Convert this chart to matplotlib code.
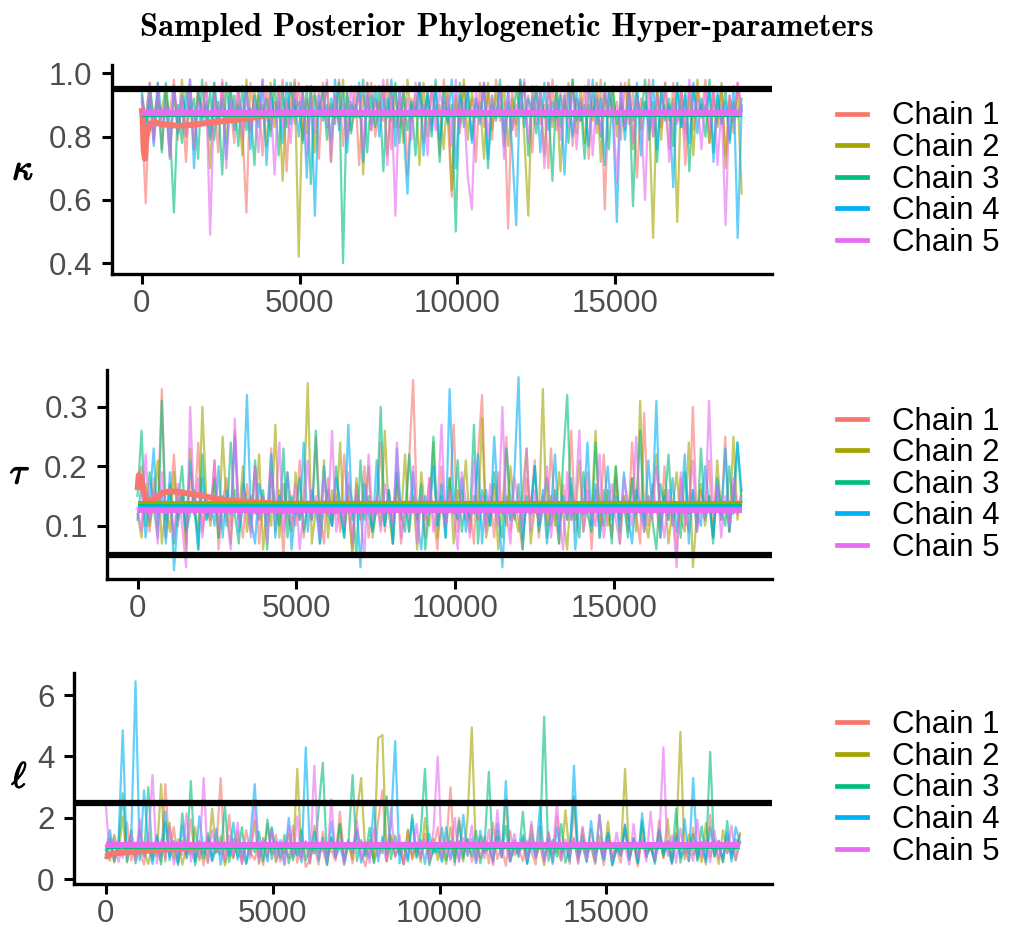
import numpy as np
import matplotlib
matplotlib.use("Agg")
import matplotlib.pyplot as plt
from matplotlib.lines import Line2D
import matplotlib.patheffects as pe

plt.rcParams['mathtext.fontset'] = 'cm'
plt.rcParams['font.family'] = ['Liberation Sans', 'DejaVu Sans']

chain_labels = ["Chain 1", "Chain 2", "Chain 3", "Chain 4", "Chain 5"]
chain_colors = ["#F8766D", "#A3A500", "#00BF7D", "#00B0F6", "#E76BF3"]
n_iter = 19000

# kappa traces (thinned), 10 values per row
kappa_c1 = [0.88, 0.59, 0.95, 0.81, 0.97, 0.76, 0.93, 0.87, 0.98, 0.79,
            0.91, 0.72, 0.96, 0.84, 0.94, 0.88, 0.97, 0.80, 0.92, 0.75,
            0.98, 0.85, 0.90, 0.78, 0.95, 0.83, 0.56, 0.97, 0.86, 0.93,
            0.74, 0.96, 0.82, 0.91, 0.87, 0.98, 0.69, 0.94, 0.84, 0.97,
            0.79, 0.92, 0.88, 0.95, 0.73, 0.97, 0.83, 0.90, 0.86, 0.98,
            0.77, 0.94, 0.82, 0.96, 0.71, 0.93, 0.87, 0.97, 0.80, 0.91,
            0.85, 0.98, 0.76, 0.94, 0.83, 0.96, 0.68, 0.92, 0.88, 0.97,
            0.78, 0.95, 0.84, 0.90, 0.74, 0.98, 0.86, 0.61, 0.93, 0.81,
            0.96, 0.87, 0.92, 0.72, 0.97, 0.83, 0.94, 0.79, 0.98, 0.85,
            0.91, 0.51, 0.95, 0.80, 0.97, 0.86, 0.93, 0.75, 0.96, 0.84,
            0.90, 0.70, 0.98, 0.82, 0.94, 0.87, 0.97, 0.77, 0.92, 0.85,
            0.96, 0.73, 0.93, 0.81, 0.98, 0.57, 0.95, 0.86, 0.91, 0.79,
            0.97, 0.84, 0.94, 0.67, 0.92, 0.88, 0.98, 0.80, 0.95, 0.83,
            0.90, 0.76, 0.97, 0.85, 0.93, 0.71, 0.96, 0.82, 0.94, 0.87,
            0.98, 0.78, 0.92, 0.84, 0.96, 0.74, 0.93, 0.81, 0.97, 0.88]
kappa_c2 = [0.93, 0.85, 0.97, 0.79, 0.91, 0.88, 0.96, 0.73, 0.94, 0.83,
            0.98, 0.80, 0.92, 0.76, 0.95, 0.86, 0.90, 0.70, 0.97, 0.84,
            0.93, 0.78, 0.96, 0.87, 0.91, 0.74, 0.98, 0.82, 0.94, 0.88,
            0.90, 0.77, 0.97, 0.83, 0.95, 0.66, 0.92, 0.86, 0.98, 0.42,
            0.94, 0.81, 0.96, 0.75, 0.91, 0.87, 0.97, 0.72, 0.93, 0.84,
            0.98, 0.79, 0.90, 0.86, 0.95, 0.68, 0.97, 0.82, 0.92, 0.88,
            0.96, 0.74, 0.94, 0.83, 0.91, 0.78, 0.98, 0.85, 0.93, 0.71,
            0.97, 0.80, 0.95, 0.87, 0.90, 0.76, 0.96, 0.63, 0.92, 0.84,
            0.98, 0.79, 0.94, 0.86, 0.91, 0.73, 0.97, 0.82, 0.93, 0.88,
            0.95, 0.77, 0.92, 0.84, 0.98, 0.80, 0.55, 0.96, 0.87, 0.91,
            0.74, 0.97, 0.83, 0.94, 0.69, 0.92, 0.86, 0.98, 0.81, 0.95,
            0.78, 0.90, 0.85, 0.97, 0.72, 0.93, 0.88, 0.96, 0.80, 0.92,
            0.84, 0.98, 0.76, 0.94, 0.82, 0.91, 0.87, 0.48, 0.95, 0.79,
            0.97, 0.85, 0.92, 0.53, 0.96, 0.81, 0.93, 0.74, 0.98, 0.86,
            0.90, 0.78, 0.95, 0.83, 0.97, 0.70, 0.92, 0.85, 0.94, 0.62]
kappa_c3 = [0.91, 0.80, 0.96, 0.86, 0.93, 0.75, 0.97, 0.83, 0.56, 0.90,
            0.78, 0.95, 0.87, 0.92, 0.73, 0.98, 0.84, 0.94, 0.79, 0.91,
            0.68, 0.97, 0.85, 0.93, 0.77, 0.96, 0.82, 0.89, 0.71, 0.95,
            0.86, 0.92, 0.80, 0.98, 0.74, 0.94, 0.83, 0.97, 0.88, 0.91,
            0.78, 0.96, 0.65, 0.93, 0.87, 0.95, 0.79, 0.92, 0.84, 0.97,
            0.40, 0.94, 0.81, 0.90, 0.86, 0.98, 0.75, 0.93, 0.83, 0.96,
            0.69, 0.92, 0.85, 0.97, 0.78, 0.94, 0.82, 0.91, 0.74, 0.96,
            0.87, 0.93, 0.80, 0.98, 0.72, 0.95, 0.84, 0.90, 0.50, 0.97,
            0.83, 0.94, 0.79, 0.92, 0.86, 0.96, 0.70, 0.93, 0.85, 0.98,
            0.77, 0.91, 0.82, 0.95, 0.88, 0.97, 0.74, 0.92, 0.81, 0.94,
            0.86, 0.90, 0.66, 0.96, 0.83, 0.93, 0.78, 0.98, 0.85, 0.91,
            0.73, 0.95, 0.87, 0.92, 0.80, 0.97, 0.76, 0.94, 0.84, 0.90,
            0.82, 0.96, 0.58, 0.93, 0.86, 0.98, 0.79, 0.91, 0.72, 0.95,
            0.85, 0.92, 0.77, 0.97, 0.83, 0.94, 0.69, 0.96, 0.87, 0.90,
            0.80, 0.98, 0.75, 0.93, 0.84, 0.95, 0.78, 0.91, 0.86, 0.92]
kappa_c4 = [0.95, 0.83, 0.92, 0.77, 0.97, 0.86, 0.90, 0.74, 0.96, 0.81,
            0.93, 0.88, 0.98, 0.70, 0.94, 0.84, 0.91, 0.79, 0.97, 0.85,
            0.92, 0.73, 0.95, 0.82, 0.90, 0.87, 0.96, 0.76, 0.93, 0.83,
            0.98, 0.71, 0.94, 0.86, 0.91, 0.78, 0.97, 0.84, 0.92, 0.80,
            0.95, 0.67, 0.96, 0.55, 0.93, 0.85, 0.90, 0.79, 0.98, 0.82,
            0.94, 0.75, 0.91, 0.87, 0.97, 0.72, 0.93, 0.84, 0.96, 0.80,
            0.92, 0.86, 0.98, 0.77, 0.95, 0.83, 0.62, 0.90, 0.88, 0.97,
            0.74, 0.94, 0.82, 0.96, 0.79, 0.91, 0.85, 0.98, 0.70, 0.93,
            0.87, 0.95, 0.78, 0.92, 0.84, 0.97, 0.73, 0.90, 0.86, 0.96,
            0.81, 0.94, 0.76, 0.52, 0.98, 0.83, 0.92, 0.88, 0.95, 0.75,
            0.97, 0.82, 0.91, 0.86, 0.93, 0.68, 0.96, 0.80, 0.94, 0.85,
            0.90, 0.77, 0.98, 0.84, 0.92, 0.71, 0.95, 0.87, 0.53, 0.96,
            0.79, 0.93, 0.85, 0.97, 0.74, 0.91, 0.82, 0.98, 0.76, 0.94,
            0.86, 0.90, 0.64, 0.96, 0.83, 0.93, 0.78, 0.97, 0.81, 0.92,
            0.87, 0.95, 0.72, 0.94, 0.84, 0.91, 0.79, 0.96, 0.48, 0.90]
kappa_c5 = [0.92, 0.86, 0.97, 0.78, 0.94, 0.83, 0.90, 0.73, 0.96, 0.85,
            0.93, 0.80, 0.98, 0.76, 0.91, 0.87, 0.95, 0.49, 0.93, 0.84,
            0.97, 0.70, 0.92, 0.86, 0.96, 0.79, 0.94, 0.82, 0.90, 0.75,
            0.98, 0.85, 0.93, 0.68, 0.96, 0.83, 0.91, 0.78, 0.97, 0.87,
            0.94, 0.74, 0.92, 0.81, 0.95, 0.86, 0.98, 0.72, 0.93, 0.84,
            0.90, 0.79, 0.96, 0.87, 0.94, 0.76, 0.97, 0.82, 0.91, 0.85,
            0.98, 0.71, 0.93, 0.55, 0.95, 0.84, 0.92, 0.79, 0.97, 0.86,
            0.90, 0.74, 0.96, 0.82, 0.94, 0.88, 0.93, 0.77, 0.98, 0.83,
            0.91, 0.67, 0.57, 0.95, 0.85, 0.97, 0.80, 0.92, 0.86, 0.94,
            0.73, 0.96, 0.82, 0.90, 0.87, 0.98, 0.78, 0.93, 0.84, 0.95,
            0.70, 0.97, 0.85, 0.91, 0.79, 0.94, 0.83, 0.96, 0.76, 0.92,
            0.88, 0.98, 0.74, 0.93, 0.81, 0.95, 0.86, 0.90, 0.65, 0.97,
            0.83, 0.94, 0.78, 0.92, 0.87, 0.60, 0.96, 0.80, 0.93, 0.85,
            0.97, 0.72, 0.91, 0.84, 0.95, 0.79, 0.98, 0.86, 0.92, 0.76,
            0.94, 0.82, 0.96, 0.71, 0.90, 0.52, 0.93, 0.85, 0.97, 0.88]

# tau traces
tau_c1 = [0.17, 0.20, 0.15, 0.09, 0.18, 0.12, 0.33, 0.08, 0.14, 0.22,
          0.10, 0.16, 0.07, 0.19, 0.12, 0.24, 0.09, 0.15, 0.11, 0.21,
          0.06, 0.14, 0.18, 0.10, 0.26, 0.13, 0.08, 0.17, 0.11, 0.20,
          0.07, 0.15, 0.12, 0.23, 0.09, 0.16, 0.05, 0.19, 0.13, 0.10,
          0.21, 0.08, 0.14, 0.11, 0.25, 0.12, 0.07, 0.18, 0.10, 0.15,
          0.09, 0.22, 0.13, 0.06, 0.17, 0.11, 0.20, 0.08, 0.14, 0.12,
          0.24, 0.09, 0.16, 0.10, 0.19, 0.07, 0.13, 0.21, 0.345, 0.11,
          0.15, 0.08, 0.18, 0.12, 0.06, 0.20, 0.10, 0.14, 0.27, 0.09,
          0.16, 0.11, 0.13, 0.07, 0.22, 0.32, 0.10, 0.15, 0.08, 0.19,
          0.12, 0.25, 0.09, 0.14, 0.11, 0.06, 0.18, 0.13, 0.21, 0.08,
          0.15, 0.10, 0.23, 0.12, 0.07, 0.17, 0.11, 0.26, 0.09, 0.14,
          0.12, 0.19, 0.06, 0.16, 0.10, 0.22, 0.13, 0.08, 0.18, 0.11,
          0.15, 0.09, 0.24, 0.12, 0.07, 0.29, 0.10, 0.17, 0.13, 0.08,
          0.20, 0.11, 0.14, 0.06, 0.18, 0.12, 0.09, 0.30, 0.10, 0.16,
          0.13, 0.21, 0.08, 0.15, 0.11, 0.25, 0.09, 0.17, 0.12, 0.14]
tau_c2 = [0.12, 0.08, 0.17, 0.10, 0.14, 0.21, 0.07, 0.13, 0.09, 0.19,
          0.11, 0.16, 0.06, 0.23, 0.12, 0.09, 0.30, 0.14, 0.10, 0.18,
          0.08, 0.25, 0.13, 0.07, 0.16, 0.11, 0.20, 0.09, 0.15, 0.12,
          0.22, 0.06, 0.14, 0.10, 0.27, 0.08, 0.17, 0.12, 0.09, 0.19,
          0.11, 0.14, 0.34, 0.07, 0.13, 0.10, 0.21, 0.08, 0.16, 0.12,
          0.24, 0.09, 0.15, 0.05, 0.18, 0.11, 0.13, 0.20, 0.08, 0.14,
          0.10, 0.26, 0.12, 0.07, 0.17, 0.11, 0.22, 0.09, 0.15, 0.06,
          0.19, 0.12, 0.10, 0.24, 0.08, 0.14, 0.11, 0.18, 0.07, 0.16,
          0.13, 0.21, 0.09, 0.15, 0.11, 0.28, 0.08, 0.12, 0.17, 0.06,
          0.14, 0.10, 0.20, 0.12, 0.09, 0.16, 0.23, 0.07, 0.13, 0.11,
          0.33, 0.08, 0.15, 0.10, 0.19, 0.12, 0.06, 0.17, 0.11, 0.21,
          0.09, 0.14, 0.12, 0.26, 0.08, 0.16, 0.10, 0.13, 0.20, 0.07,
          0.15, 0.11, 0.18, 0.09, 0.31, 0.12, 0.08, 0.14, 0.22, 0.10,
          0.16, 0.07, 0.13, 0.19, 0.11, 0.09, 0.24, 0.03, 0.12, 0.17,
          0.10, 0.15, 0.08, 0.21, 0.12, 0.14, 0.09, 0.25, 0.11, 0.16]
tau_c3 = [0.15, 0.26, 0.10, 0.19, 0.13, 0.08, 0.31, 0.11, 0.17, 0.07,
          0.14, 0.20, 0.09, 0.12, 0.16, 0.06, 0.22, 0.11, 0.13, 0.18,
          0.08, 0.15, 0.10, 0.24, 0.12, 0.07, 0.17, 0.14, 0.09, 0.21,
          0.11, 0.16, 0.06, 0.19, 0.13, 0.10, 0.23, 0.08, 0.15, 0.12,
          0.18, 0.09, 0.14, 0.11, 0.26, 0.07, 0.13, 0.16, 0.10, 0.20,
          0.12, 0.08, 0.17, 0.14, 0.05, 0.21, 0.11, 0.15, 0.09, 0.13,
          0.30, 0.10, 0.16, 0.07, 0.19, 0.12, 0.09, 0.22, 0.14, 0.11,
          0.17, 0.06, 0.13, 0.25, 0.10, 0.15, 0.08, 0.18, 0.12, 0.21,
          0.09, 0.14, 0.11, 0.27, 0.07, 0.16, 0.13, 0.10, 0.19, 0.12,
          0.08, 0.23, 0.14, 0.11, 0.17, 0.06, 0.15, 0.12, 0.20, 0.09,
          0.13, 0.18, 0.10, 0.16, 0.07, 0.21, 0.32, 0.11, 0.14, 0.08,
          0.19, 0.12, 0.09, 0.24, 0.13, 0.10, 0.16, 0.07, 0.20, 0.11,
          0.14, 0.08, 0.18, 0.12, 0.26, 0.09, 0.15, 0.11, 0.06, 0.17,
          0.13, 0.22, 0.10, 0.14, 0.08, 0.19, 0.12, 0.16, 0.09, 0.23,
          0.11, 0.15, 0.07, 0.18, 0.13, 0.10, 0.20, 0.12, 0.24, 0.14]
tau_c4 = [0.11, 0.17, 0.08, 0.14, 0.23, 0.10, 0.16, 0.07, 0.19, 0.025,
          0.12, 0.15, 0.09, 0.21, 0.13, 0.06, 0.18, 0.11, 0.14, 0.10,
          0.20, 0.08, 0.16, 0.12, 0.25, 0.09, 0.13, 0.32, 0.11, 0.07,
          0.17, 0.14, 0.10, 0.22, 0.08, 0.15, 0.12, 0.19, 0.06, 0.13,
          0.11, 0.24, 0.09, 0.16, 0.13, 0.07, 0.20, 0.12, 0.10, 0.18,
          0.14, 0.08, 0.27, 0.11, 0.15, 0.03, 0.17, 0.12, 0.09, 0.21,
          0.13, 0.10, 0.16, 0.07, 0.23, 0.12, 0.14, 0.09, 0.19, 0.11,
          0.06, 0.15, 0.12, 0.20, 0.10, 0.17, 0.08, 0.33, 0.13, 0.11,
          0.18, 0.09, 0.14, 0.12, 0.22, 0.07, 0.16, 0.10, 0.25, 0.13,
          0.03, 0.15, 0.11, 0.19, 0.35, 0.08, 0.14, 0.12, 0.20, 0.10,
          0.16, 0.07, 0.13, 0.22, 0.09, 0.15, 0.11, 0.18, 0.06, 0.14,
          0.12, 0.24, 0.10, 0.17, 0.08, 0.13, 0.20, 0.11, 0.15, 0.09,
          0.19, 0.12, 0.07, 0.16, 0.14, 0.10, 0.21, 0.13, 0.31, 0.08,
          0.15, 0.11, 0.18, 0.09, 0.13, 0.22, 0.07, 0.16, 0.12, 0.10,
          0.20, 0.14, 0.08, 0.17, 0.11, 0.23, 0.09, 0.15, 0.24, 0.16]
tau_c5 = [0.13, 0.09, 0.22, 0.11, 0.16, 0.07, 0.19, 0.12, 0.14, 0.08,
          0.17, 0.10, 0.03, 0.30, 0.12, 0.18, 0.08, 0.15, 0.11, 0.21,
          0.09, 0.14, 0.12, 0.06, 0.28, 0.10, 0.16, 0.13, 0.08, 0.20,
          0.11, 0.15, 0.07, 0.19, 0.12, 0.24, 0.09, 0.14, 0.10, 0.17,
          0.06, 0.13, 0.21, 0.11, 0.15, 0.08, 0.18, 0.12, 0.26, 0.09,
          0.14, 0.10, 0.19, 0.07, 0.16, 0.12, 0.05, 0.22, 0.11, 0.15,
          0.09, 0.17, 0.13, 0.10, 0.24, 0.08, 0.14, 0.12, 0.20, 0.07,
          0.15, 0.11, 0.18, 0.09, 0.13, 0.27, 0.10, 0.16, 0.12, 0.06,
          0.19, 0.14, 0.08, 0.21, 0.11, 0.15, 0.09, 0.17, 0.13, 0.10,
          0.30, 0.12, 0.07, 0.18, 0.14, 0.10, 0.23, 0.09, 0.16, 0.11,
          0.13, 0.20, 0.08, 0.15, 0.12, 0.06, 0.19, 0.11, 0.14, 0.26,
          0.09, 0.16, 0.12, 0.10, 0.22, 0.08, 0.13, 0.17, 0.11, 0.07,
          0.18, 0.14, 0.10, 0.25, 0.12, 0.09, 0.15, 0.11, 0.20, 0.13,
          0.08, 0.16, 0.12, 0.03, 0.19, 0.10, 0.14, 0.21, 0.09, 0.13,
          0.11, 0.31, 0.12, 0.17, 0.08, 0.15, 0.10, 0.18, 0.13, 0.15]

# ell traces
ell_c1 = [0.80, 1.35, 0.55, 1.10, 0.70, 1.85, 0.62, 1.20, 0.90, 0.48,
          1.50, 0.75, 1.05, 0.58, 3.10, 0.85, 1.70, 0.52, 1.25, 0.68,
          1.95, 0.60, 1.15, 0.45, 1.40, 0.78, 1.00, 3.30, 0.56, 2.10,
          0.72, 1.30, 0.50, 1.60, 0.88, 0.64, 1.18, 0.46, 1.80, 0.82,
          1.45, 0.58, 1.02, 0.70, 1.75, 0.54, 1.22, 0.40, 0.66, 1.10,
          0.48, 1.55, 0.80, 0.95, 0.60, 2.20, 0.74, 1.28, 0.52, 1.65,
          0.86, 0.42, 1.12, 0.68, 1.90, 2.90, 0.57, 1.35, 0.76, 1.05,
          0.50, 1.60, 0.64, 1.20, 0.72, 1.48, 0.55, 0.98, 1.70, 0.62,
          1.15, 3.00, 0.46, 2.00, 0.80, 1.32, 0.58, 1.08, 0.70, 1.40,
          0.52, 1.85, 0.66, 1.10, 0.44, 1.58, 0.78, 1.00, 0.60, 1.26,
          0.90, 0.48, 1.72, 0.64, 1.14, 0.56, 2.05, 0.74, 1.30, 0.50,
          2.40, 0.68, 1.06, 0.58, 1.62, 0.82, 1.20, 0.46, 1.44, 0.72,
          0.96, 0.54, 1.78, 0.66, 1.16, 0.42, 1.36, 0.80, 1.02, 0.60,
          1.92, 0.70, 1.24, 0.52, 1.52, 0.76, 0.94, 0.58, 1.68, 0.64,
          1.08, 0.48, 2.10, 0.74, 1.26, 0.56, 1.40, 0.82, 1.00, 1.45]
ell_c2 = [1.10, 0.60, 1.45, 0.82, 2.05, 0.55, 1.25, 0.70, 1.60, 0.95,
          0.50, 1.15, 0.75, 3.10, 0.58, 1.85, 0.66, 1.30, 0.48, 1.05,
          0.80, 1.70, 0.62, 1.20, 0.54, 2.30, 0.86, 1.40, 0.45, 1.00,
          0.68, 1.55, 0.60, 1.12, 0.78, 1.90, 0.50, 1.35, 0.72, 1.65,
          0.56, 1.08, 0.84, 1.48, 0.62, 3.60, 0.70, 1.22, 0.52, 1.75,
          0.88, 1.02, 0.46, 1.38, 0.74, 1.80, 0.58, 1.15, 0.66, 2.15,
          3.30, 0.80, 1.28, 0.54, 4.60, 4.70, 0.60, 1.45, 0.76, 1.05,
          0.48, 1.62, 0.70, 1.18, 0.56, 2.00, 0.82, 1.32, 0.62, 1.10,
          0.50, 1.70, 0.74, 1.25, 0.58, 1.95, 4.95, 0.66, 1.40, 0.86,
          1.08, 0.52, 1.58, 0.72, 2.60, 0.60, 1.20, 0.88, 1.36, 0.54,
          1.76, 0.68, 1.12, 0.46, 1.50, 0.80, 1.00, 0.62, 2.25, 0.74,
          1.30, 0.56, 1.66, 0.84, 1.06, 0.50, 1.42, 0.70, 1.88, 0.58,
          1.16, 0.76, 3.60, 0.64, 1.34, 0.52, 1.72, 0.82, 1.04, 0.60,
          1.52, 0.70, 1.96, 0.54, 1.22, 4.80, 0.66, 1.46, 0.78, 1.10,
          0.56, 1.84, 0.72, 1.28, 0.50, 1.60, 0.86, 1.14, 0.62, 1.50]
ell_c3 = [0.70, 1.30, 0.58, 1.15, 2.80, 0.82, 1.60, 0.52, 1.05, 0.76,
          3.00, 0.62, 1.40, 0.48, 1.85, 0.72, 1.18, 0.55, 2.15, 0.85,
          3.20, 0.46, 1.25, 0.68, 1.50, 0.60, 1.00, 0.80, 2.40, 0.56,
          1.32, 0.74, 1.70, 0.50, 1.12, 0.88, 1.55, 0.58, 1.95, 0.66,
          1.22, 0.70, 1.45, 0.52, 1.10, 0.78, 1.62, 0.62, 1.08, 0.84,
          2.25, 3.80, 0.56, 1.35, 0.72, 1.80, 0.48, 1.15, 3.40, 0.60,
          1.28, 0.74, 1.68, 0.54, 1.05, 0.86, 2.70, 0.66, 1.42, 0.80,
          1.20, 0.58, 2.10, 0.70, 1.52, 3.60, 0.46, 1.00, 0.86, 1.68,
          0.62, 1.25, 0.56, 1.90, 0.68, 1.30, 0.76, 1.58, 0.52, 1.12,
          3.50, 0.64, 1.38, 0.82, 1.74, 0.58, 1.06, 0.72, 2.20, 0.50,
          1.44, 0.80, 1.14, 5.30, 0.60, 1.28, 0.74, 1.80, 0.54, 1.05,
          2.70, 0.66, 1.42, 0.80, 1.20, 0.58, 2.10, 0.70, 1.52, 0.46,
          1.00, 0.86, 1.68, 0.62, 1.34, 0.56, 1.92, 0.72, 1.18, 0.50,
          1.60, 0.78, 1.26, 0.64, 2.30, 0.54, 1.10, 0.84, 1.48, 0.60,
          1.72, 0.68, 4.15, 0.74, 1.25, 0.56, 1.90, 0.68, 1.30, 1.20]
ell_c4 = [0.95, 1.60, 0.72, 1.25, 4.85, 0.58, 1.40, 6.45, 0.62, 2.90,
          1.10, 0.50, 1.45, 0.80, 2.20, 0.62, 1.25, 0.46, 1.75, 0.70,
          1.08, 0.56, 2.05, 0.84, 1.30, 0.60, 1.65, 0.48, 1.20, 0.76,
          1.85, 0.64, 1.02, 0.52, 1.40, 3.10, 0.74, 1.15, 0.58, 1.70,
          0.82, 1.28, 0.50, 2.00, 0.68, 1.10, 0.56, 4.30, 0.78, 1.55,
          0.62, 1.35, 0.48, 1.88, 0.72, 1.05, 0.60, 1.22, 0.86, 1.60,
          0.54, 1.00, 0.70, 2.45, 0.58, 1.38, 0.80, 1.75, 4.50, 0.52,
          1.12, 0.66, 1.95, 0.74, 1.28, 0.50, 1.48, 0.84, 1.08, 0.56,
          1.70, 0.68, 1.20, 0.62, 2.10, 0.76, 1.32, 0.54, 1.58, 0.88,
          1.04, 0.60, 1.82, 0.70, 3.20, 0.58, 1.26, 0.82, 1.44, 0.52,
          1.14, 0.74, 2.35, 0.64, 1.36, 0.50, 1.66, 0.86, 1.06, 0.60,
          3.70, 0.72, 1.24, 0.56, 1.90, 0.80, 1.16, 0.62, 1.50, 0.46,
          1.02, 0.78, 1.78, 0.66, 1.30, 0.54, 2.15, 0.72, 1.18, 0.58,
          1.62, 0.84, 1.06, 0.50, 1.42, 0.70, 1.96, 0.60, 3.30, 0.74,
          1.22, 0.56, 1.68, 0.80, 1.08, 0.64, 1.52, 0.58, 1.70, 1.20]
ell_c5 = [2.45, 0.70, 1.35, 0.56, 1.10, 0.84, 1.50, 0.60, 1.95, 0.74,
          1.20, 3.40, 0.52, 1.28, 0.66, 1.70, 0.48, 1.05, 0.80, 2.15,
          0.58, 1.12, 0.70, 3.30, 0.54, 1.60, 0.88, 1.00, 0.62, 1.42,
          0.76, 1.85, 0.50, 1.18, 0.68, 2.40, 0.56, 1.30, 0.82, 1.55,
          0.60, 1.08, 0.46, 1.75, 0.72, 2.05, 0.64, 1.25, 0.52, 3.70,
          0.78, 1.02, 0.58, 2.60, 0.70, 1.38, 0.48, 1.15, 0.86, 1.90,
          0.62, 1.22, 0.54, 1.65, 0.76, 1.05, 0.60, 2.30, 0.72, 1.45,
          0.50, 1.12, 0.84, 1.80, 0.66, 1.30, 0.58, 1.58, 4.00, 0.74,
          1.08, 0.62, 2.00, 0.56, 1.35, 0.80, 1.75, 0.52, 1.20, 0.68,
          1.62, 0.46, 2.25, 0.74, 1.14, 0.58, 1.48, 0.86, 1.04, 0.64,
          1.88, 0.70, 1.24, 0.54, 1.56, 0.78, 2.50, 0.60, 1.10, 0.82,
          1.36, 0.50, 1.72, 0.66, 1.18, 0.56, 2.10, 0.74, 1.30, 0.62,
          1.52, 0.84, 1.06, 0.48, 1.80, 0.70, 1.26, 0.58, 2.20, 0.64,
          1.12, 4.30, 0.76, 1.42, 0.54, 1.66, 0.80, 1.00, 0.60, 1.94,
          0.72, 1.28, 0.56, 1.58, 0.68, 1.10, 0.84, 1.75, 0.62, 1.20]

# running means: chain 1 shown as a curve, chains 2-5 have settled
kappa_rm1_iter = [0, 30, 60, 100, 150, 250, 400, 600, 900, 1200, 1600, 2000, 2500, 3000, 3500, 4000, 5000, 19000]
kappa_rm1 = [0.89, 0.86, 0.76, 0.73, 0.80, 0.84, 0.845, 0.84, 0.836, 0.834, 0.837, 0.842, 0.848, 0.853, 0.86, 0.867, 0.872, 0.874]
kappa_rm_rest = [0.872, 0.871, 0.873, 0.874]

tau_rm1_iter = [0, 40, 80, 120, 160, 250, 400, 600, 800, 1000, 1300, 1600, 2000, 2500, 3000, 3500, 4500, 19000]
tau_rm1 = [0.16, 0.185, 0.17, 0.182, 0.165, 0.145, 0.142, 0.148, 0.155, 0.158, 0.157, 0.154, 0.151, 0.145, 0.142, 0.14, 0.137, 0.136]
tau_rm_rest = [0.1365, 0.132, 0.130, 0.126]

ell_rm1_iter = [0, 50, 100, 200, 400, 700, 1000, 1500, 2000, 3000, 4000, 19000]
ell_rm1 = [0.78, 0.74, 0.80, 0.83, 0.86, 0.89, 0.91, 0.95, 0.99, 1.05, 1.09, 1.11]
ell_rm_rest = [1.09, 1.08, 1.11, 1.13]

# reference lines
kappa_ref = 0.95
tau_ref = 0.05
ell_ref = 2.5

W, H = 1013, 932


def draw_panel(ax, traces, rm_iter, rm1, rm_rest, ref, yticks, ylim):
    for vals, col in zip(traces, chain_colors):
        x = np.linspace(0, n_iter, len(vals))
        ax.plot(x, vals, color=col, alpha=0.6, lw=1.6)
    ax.plot(rm_iter, rm1, color=chain_colors[0], lw=4.3, solid_capstyle='butt')
    for lvl, col in zip(rm_rest, chain_colors[1:]):
        ax.plot([0, n_iter], [lvl, lvl], color=col, lw=4.3, solid_capstyle='butt')
    ax.axhline(ref, color='black', lw=4.5)

    ax.set_xlim(-950, 19950)
    ax.set_ylim(*ylim)
    ax.set_xticks([0, 5000, 10000, 15000])
    ax.set_yticks(yticks)
    ax.set_yticklabels([f"{t:.1f}" if t < 1.01 else f"{t:g}" for t in yticks])
    for s in ['top', 'right']:
        ax.spines[s].set_visible(False)
    for s in ['left', 'bottom']:
        ax.spines[s].set_linewidth(2.4)
    ax.tick_params(length=7, width=2.2, labelsize=22.5, labelcolor='#4D4D4D')
    ax.tick_params(axis='y', pad=7)
    ax.tick_params(axis='x', pad=3.5)


def px_box(left, right, top, bottom):
    return [left / W, 1 - bottom / H, (right - left) / W, (bottom - top) / H]


fig = plt.figure(figsize=(W / 100, H / 100), dpi=100)

ax1 = fig.add_axes(px_box(111.7, 771.7, 65, 274))
draw_panel(ax1, [kappa_c1, kappa_c2, kappa_c3, kappa_c4, kappa_c5],
           kappa_rm1_iter, kappa_rm1, kappa_rm_rest, kappa_ref,
           [0.4, 0.6, 0.8, 1.0], (0.366, 1.026))

ax2 = fig.add_axes(px_box(107.3, 771.7, 370, 579))
draw_panel(ax2, [tau_c1, tau_c2, tau_c3, tau_c4, tau_c5],
           tau_rm1_iter, tau_rm1, tau_rm_rest, tau_ref,
           [0.1, 0.2, 0.3], (0.0104, 0.362))

ax3 = fig.add_axes(px_box(74, 771.7, 673.3, 884))
draw_panel(ax3, [ell_c1, ell_c2, ell_c3, ell_c4, ell_c5],
           ell_rm1_iter, ell_rm1, ell_rm_rest, ell_ref,
           [0, 2, 4, 6], (-0.153, 6.71))
ax3.set_yticklabels(['0', '2', '4', '6'])

# y labels (greek symbols)
bold = [pe.withStroke(linewidth=1.0, foreground='black')]
for lab, xc, yc in [(r'$\kappa$', 23, 170), (r'$\tau$', 20, 474), (r'$\ell$', 19.5, 778)]:
    fig.text(xc / W, 1 - yc / H, lab, fontsize=26, ha='center', va='center', path_effects=bold)

# legends
handles = [Line2D([0], [0], color=c, lw=3.4) for c in chain_colors]
for yc in [179.6, 484.8, 788.5]:
    fig.legend(handles, chain_labels, loc='center left', bbox_to_anchor=(837 / W, 1 - yc / H),
               frameon=False, borderpad=0, borderaxespad=0, fontsize=22.5,
               handlelength=0.96, handletextpad=0.8, labelspacing=0.05)

fig.text(0.5, 1 - 28 / H, 'Sampled Posterior Phylogenetic Hyper-parameters',
         family='cmb10', fontsize=23.5, ha='center', va='center')

fig.savefig('out.png', dpi=100)
